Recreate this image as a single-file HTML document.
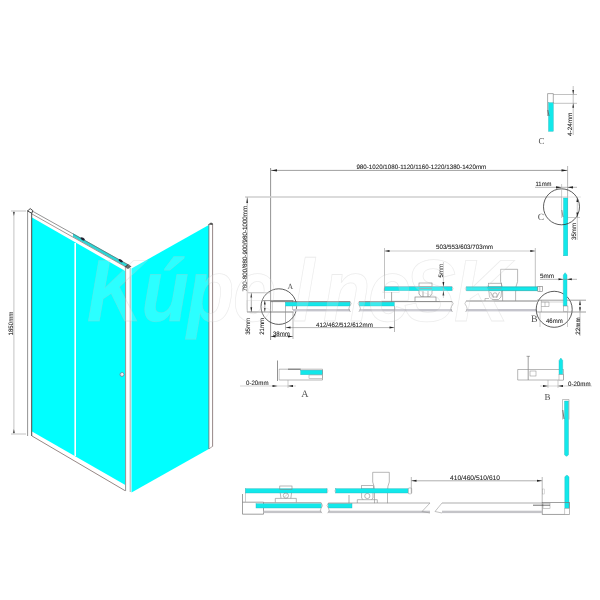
<!DOCTYPE html>
<html><head><meta charset="utf-8">
<style>
html,body{margin:0;padding:0;background:#fff;width:600px;height:600px;overflow:hidden}
svg{display:block;will-change:transform}
text{text-rendering:geometricPrecision;font-family:"Liberation Sans",sans-serif;fill:#222;stroke:#222;stroke-width:0.08}
.bar{fill:#12e8ea;stroke:#2ab4bc;stroke-width:0.4}
.sf{font-family:"Liberation Serif",serif;fill:#555;stroke:none}
</style></head><body>
<svg width="600" height="600" viewBox="0 0 600 600">
<defs>
<filter id="bl" x="-5%" y="-20%" width="110%" height="140%"><feGaussianBlur stdDeviation="0.7"/></filter>
<marker id="ar" viewBox="0 0 10 6" refX="10" refY="3" markerWidth="5" markerHeight="3" orient="auto-start-reverse" markerUnits="userSpaceOnUse"><path d="M0,0 L10,3 L0,6 z" fill="#222"/></marker>
</defs>
<rect width="600" height="600" fill="#fff"/>

<!-- ============ LEFT ENCLOSURE ============ -->
<g id="encl">
  <!-- left panel cyan -->
  <polygon points="32,217.5 125.3,271 125.3,485 32,431.5" fill="#00ffff"/>
  <!-- white divider -->
  <line x1="75.2" y1="243" x2="75.2" y2="456" stroke="#fff" stroke-width="1.6"/>
  <!-- white band above cyan (top rail area) -->
  <!-- top rail lines -->
  <polygon points="73,233.3 128,264.5 128,268 73,236.8" fill="#2cd6d6"/>
  <line x1="31.5" y1="210.6" x2="128" y2="264.6" stroke="#666" stroke-width="0.7"/>
  <line x1="32" y1="214" x2="128" y2="268.2" stroke="#7a6e6e" stroke-width="0.7"/>
  <ellipse cx="82.7" cy="238.9" rx="2.4" ry="1.2" fill="#223" transform="rotate(30 82.7 238.9)"/>
  <ellipse cx="120.7" cy="260.7" rx="2.4" ry="1.2" fill="#223" transform="rotate(30 120.7 260.7)"/>
  <!-- bottom rail -->
  <line x1="32" y1="436" x2="125.3" y2="490.8" stroke="#8a7a78" stroke-width="0.9"/>
  <!-- left post -->
  <rect x="27.6" y="210" width="4" height="226" fill="#fff" stroke="none"/>
  <line x1="27.6" y1="210" x2="27.6" y2="436" stroke="#888" stroke-width="0.9"/>
  <line x1="31.7" y1="211" x2="31.7" y2="436" stroke="#333" stroke-width="0.9"/>
  <path d="M27.6,211 L30.2,208.6 L32.8,210.6 L31.7,213.2 z" fill="#fff" stroke="#333" stroke-width="0.9"/>
  <!-- corner post -->
  <rect x="125.5" y="267" width="6" height="226" fill="#fff"/>
  <line x1="125.6" y1="268" x2="125.6" y2="491" stroke="#777" stroke-width="0.8"/>
  <line x1="130.2" y1="268" x2="130.2" y2="492" stroke="#aaa" stroke-width="1"/>
  <path d="M124.5,267 L128,264 L131.5,266.5 L128,269 z" fill="#444"/>
  <!-- right panel -->
  <polygon points="131.5,268.5 208.8,225 208.8,449 131.5,492.5" fill="#00ffff"/>
  <rect x="209" y="223.5" width="3.6" height="223" fill="#fff"/>
  <line x1="208.9" y1="224" x2="208.9" y2="449" stroke="#555" stroke-width="0.7"/>
  <line x1="212.6" y1="224" x2="212.6" y2="446.5" stroke="#8a7a7a" stroke-width="0.9"/>
  <path d="M208,224.5 L211,222.5 L213,223.5 L212.6,225 z" fill="#555"/>
  <path d="M212.6,446.3 L209,448.8" stroke="#8a7a7a" stroke-width="0.7"/>
  <!-- handle knob -->
  <circle cx="122" cy="374.5" r="2" fill="#dde" stroke="#778" stroke-width="0.7"/><circle cx="122.4" cy="374" r="0.8" fill="#fff"/>
  <!-- 1850 dim -->
  <line x1="11" y1="211" x2="26" y2="211" stroke="#aaa" stroke-width="0.7"/>
  <line x1="11" y1="434" x2="26" y2="434" stroke="#aaa" stroke-width="0.7"/>
  <line x1="13.9" y1="211" x2="13.9" y2="434" stroke="#aaa" stroke-width="0.7"/>
  <path d="M12.9,212 L14.9,212 L13.9,216 z" fill="#555"/>
  <path d="M12.9,433 L14.9,433 L13.9,429 z" fill="#555"/>
  <text transform="translate(13,335.5) rotate(-90)" font-size="6.4" textLength="24" lengthAdjust="spacingAndGlyphs">1850mm</text>
</g>


<!-- ============ TECH DRAWING ============ -->
<g id="tech" fill="none" stroke-linecap="butt">
  <!-- C small detail (top) -->
  <rect x="548.5" y="102.7" width="4.8" height="28.6" class="bar"/>
  <path d="M547.6,116 V93.6 H553.3 V103" stroke="#888" stroke-width="0.7"/>
  <path d="M547.8,110 L549,116" stroke="#555" stroke-width="0.7"/>
  <line x1="553" y1="94.5" x2="577" y2="94.5" stroke="#999" stroke-width="0.6"/>
  <line x1="553" y1="103.3" x2="577" y2="103.3" stroke="#999" stroke-width="0.6"/>
  <line x1="573.2" y1="86" x2="573.2" y2="135" stroke="#999" stroke-width="0.6"/>
  <path d="M572.3,90 L574.1,90 L573.2,94.5 z M572.3,107.8 L574.1,107.8 L573.2,103.3 z" fill="#333"/>
  <text transform="translate(572,136) rotate(-90)" font-size="6.3" textLength="23.3" lengthAdjust="spacingAndGlyphs">4-24mm</text>
  <text class="sf" x="538.6" y="144.2" font-size="9" stroke="none">C</text>

  <!-- long dims -->
  <line x1="270.6" y1="168" x2="270.6" y2="340" stroke="#666" stroke-width="0.7"/>
  <line x1="271" y1="170.4" x2="567.5" y2="170.4" stroke="#777" stroke-width="0.7"/>
  <path d="M271,170.4 L277,169.3 L277,171.5 z M567.5,170.4 L561.5,169.3 L561.5,171.5 z" fill="#222"/>
  <line x1="567.6" y1="166" x2="567.6" y2="220" stroke="#888" stroke-width="0.6"/>
  <text x="356.4" y="169" font-size="6.3" textLength="129.9" lengthAdjust="spacingAndGlyphs">980-1020/1080-1120/1160-1220/1380-1420mm</text>
  <line x1="245" y1="197" x2="561.6" y2="197" stroke="#cfcfcf" stroke-width="1.3"/>
  <line x1="568" y1="197" x2="581" y2="197" stroke="#e4e4e4" stroke-width="1"/>
  <line x1="247.2" y1="197" x2="247.2" y2="312" stroke="#999" stroke-width="0.6"/>
  <path d="M246.3,203 L248.1,203 L247.2,197.5 z" fill="#333"/>
  <text transform="translate(246.7,291.6) rotate(-90)" font-size="6.3" textLength="85.8" lengthAdjust="spacingAndGlyphs">780-800/880-900/980-1000mm</text>

  <!-- C detail (circle) -->
  <rect x="563.5" y="198" width="4.3" height="57.8" class="bar"/>
  <path d="M561.6,218 V197 H567.5" stroke="#aaa" stroke-width="0.6"/>
  <path d="M561.8,210 L563,217" stroke="#666" stroke-width="0.7"/>
  <circle cx="561.5" cy="206.8" r="18" stroke="#333" stroke-width="0.8"/>
  <line x1="535" y1="187.3" x2="577" y2="187.3" stroke="#888" stroke-width="0.6"/>
  <path d="M561.5,187.3 L556,186.2 L556,188.4 z M567.6,187.3 L573,186.2 L573,188.4 z" fill="#222"/>
  <line x1="561.6" y1="184" x2="561.6" y2="197" stroke="#aaa" stroke-width="0.6"/>
  <text x="535.5" y="186.2" font-size="6.3" textLength="16" lengthAdjust="spacingAndGlyphs">11mm</text>
  <line x1="568" y1="217.5" x2="580" y2="217.5" stroke="#aaa" stroke-width="0.6"/>
  <line x1="577.3" y1="197" x2="577.3" y2="240" stroke="#aaa" stroke-width="0.6"/>
  <path d="M576.4,202 L578.2,202 L577.3,197.5 z M576.4,212.5 L578.2,212.5 L577.3,217.5 z" fill="#222"/>
  <text transform="translate(576.2,240) rotate(-90)" font-size="6.3" textLength="17" lengthAdjust="spacingAndGlyphs">35mm</text>
  <text class="sf" x="537.8" y="219.5" font-size="9.5" stroke="none">C</text>

  <!-- A circle detail -->
  <circle cx="278.8" cy="306.6" r="17.8" stroke="#333" stroke-width="0.8"/>
  <line x1="262.5" y1="300.6" x2="293.5" y2="300.6" stroke="#555" stroke-width="0.7"/>
  <line x1="292.5" y1="300.6" x2="292.5" y2="310" stroke="#888" stroke-width="0.5"/>
  <line x1="247" y1="312" x2="293.5" y2="312" stroke="#555" stroke-width="0.7"/>
  <line x1="248" y1="292.8" x2="270.6" y2="292.8" stroke="#999" stroke-width="0.6"/>
  <line x1="272.5" y1="301" x2="272.5" y2="311.5" stroke="#aaa" stroke-width="0.5"/>
  <line x1="251.3" y1="292.8" x2="251.3" y2="312" stroke="#777" stroke-width="0.6"/>
  <path d="M250.4,297.5 L252.2,297.5 L251.3,293 z M250.4,307.3 L252.2,307.3 L251.3,311.8 z" fill="#222"/>
  <line x1="264.8" y1="300.6" x2="264.8" y2="312" stroke="#777" stroke-width="0.6"/>
  <path d="M263.9,304.6 L265.7,304.6 L264.8,300.8 z M263.9,308 L265.7,308 L264.8,311.8 z" fill="#222"/>
  <text transform="translate(250.4,334.8) rotate(-90)" font-size="6.3" textLength="17" lengthAdjust="spacingAndGlyphs">35mm</text>
  <text transform="translate(263.7,334.8) rotate(-90)" font-size="6.3" textLength="16.8" lengthAdjust="spacingAndGlyphs">21mm</text>
  <line x1="270.6" y1="336.5" x2="293" y2="336.5" stroke="#777" stroke-width="0.6"/>
  <line x1="293" y1="312" x2="293" y2="339" stroke="#888" stroke-width="0.6"/>
  <path d="M270.8,336.5 L275.5,335.5 L275.5,337.5 z M292.8,336.5 L288,335.5 L288,337.5 z" fill="#222"/>
  <text x="272.9" y="336" font-size="6.3" textLength="17" lengthAdjust="spacingAndGlyphs">38mm</text>
  <text class="sf" x="287.6" y="288.9" font-size="7.8">A</text>

  <!-- lower plan rail -->
  <line x1="270.6" y1="301.6" x2="350" y2="301.6" stroke="#666" stroke-width="0.8"/>
  <line x1="359" y1="301.6" x2="452" y2="301.6" stroke="#666" stroke-width="0.8"/>
  <line x1="466" y1="301" x2="537" y2="301" stroke="#666" stroke-width="0.8"/>
  <rect x="285.3" y="302.2" width="64.7" height="3.8" class="bar"/>
  <rect x="359.3" y="302.2" width="35" height="3.8" class="bar"/>
  <rect x="293" y="309" width="57" height="2.4" fill="#c4c4cc"/>
  <rect x="359.3" y="309" width="92.7" height="2.4" fill="#c4c4cc"/>
  <rect x="466" y="309" width="71" height="2.4" fill="#c4c4cc"/>
  <path d="M350,301.2 Q352.5,303.5 349.5,306.5 Q347.5,309 350.5,312" stroke="#999" stroke-width="0.6"/>
  <path d="M359.3,301.2 Q356.8,303.5 359.8,306.5 Q361.8,309 358.8,312" stroke="#999" stroke-width="0.6"/>
  <path d="M452,301.2 Q454.5,303.5 451.5,306.5 Q449.5,309 452.5,312" stroke="#999" stroke-width="0.6"/>
  <path d="M466,301.2 Q463.5,303.5 466.5,306.5 Q468.5,309 465.5,312" stroke="#999" stroke-width="0.6"/>
  <line x1="285.5" y1="306" x2="285.5" y2="330" stroke="#888" stroke-width="0.6"/>
  <line x1="394.5" y1="306" x2="394.5" y2="332" stroke="#888" stroke-width="0.6"/>
  <line x1="285.5" y1="327.6" x2="394.5" y2="327.6" stroke="#888" stroke-width="0.6"/>
  <path d="M285.7,327.6 L290.5,326.6 L290.5,328.6 z M394.3,327.6 L389.5,326.6 L389.5,328.6 z" fill="#222"/>
  <text x="316" y="326.7" font-size="6.3" textLength="56.8" lengthAdjust="spacingAndGlyphs">412/462/512/612mm</text>

  <!-- upper plan bar -->
  <rect x="384.2" y="286.9" width="67.8" height="3.8" class="bar"/>
  <line x1="384.2" y1="286.5" x2="452" y2="286.5" stroke="#7ab" stroke-width="0.5"/>
  <path d="M452,286.5 Q454,288.5 452,291" stroke="#aaa" stroke-width="0.5"/>
  <path d="M466.3,286.5 Q464.3,288.5 466.3,291" stroke="#aaa" stroke-width="0.5"/>
  <line x1="384.5" y1="248" x2="384.5" y2="298.8" stroke="#999" stroke-width="0.6"/>
  <line x1="391.6" y1="292" x2="391.6" y2="301.5" stroke="#666" stroke-width="0.7"/>
  <line x1="535.3" y1="248" x2="535.3" y2="287" stroke="#999" stroke-width="0.6"/>
  <line x1="384.5" y1="251" x2="535.3" y2="251" stroke="#aaa" stroke-width="0.6"/>
  <path d="M384.7,251 L389.5,250 L389.5,252 z M535.1,251 L530.3,250 L530.3,252 z" fill="#222"/>
  <text x="436" y="249.3" font-size="6.3" textLength="57" lengthAdjust="spacingAndGlyphs">503/553/603/703mm</text>
  <!-- 5mm mid -->
  <line x1="443.4" y1="262" x2="443.4" y2="298" stroke="#aaa" stroke-width="0.6"/>
  <path d="M442.5,282 L444.3,282 L443.4,286.8 z M442.5,295.5 L444.3,295.5 L443.4,290.8 z" fill="#222"/>
  <text transform="translate(442.5,277.5) rotate(-90)" font-size="6.3" textLength="13.7" lengthAdjust="spacingAndGlyphs">5mm</text>
  <!-- roller 1 -->
  <g stroke="#777" stroke-width="0.6">
    <rect x="419" y="283" width="13" height="3.6" fill="#fff"/>
    <path d="M419,290.7 V294 L421.5,297 H429.5 L432,294 V290.7" fill="#fff"/>
    <line x1="423" y1="291" x2="423" y2="297"/><line x1="428" y1="291" x2="428" y2="297"/>
    <rect x="415" y="297" width="21" height="4.3" fill="#fff"/>
  </g>
  <line x1="419" y1="288.6" x2="432" y2="288.6" stroke="#e66" stroke-width="0.5"/>
  <!-- roller 2 + vase -->
  <g stroke="#888" stroke-width="0.6" fill="none">
    <path d="M502.6,301 V292 Q502.6,286 500.6,281.5 V269.3 H517.6 V281.5 Q515.6,286 515.6,292 V301"/>
    <rect x="488.4" y="283.2" width="13.2" height="3.7"/>
    <path d="M488.8,290.8 L489.5,297 L492,299.5 H498.5 L501,297 L501.6,290.8"/>
    <path d="M490.5,292 L493.5,298 M499.5,292 L496.5,298"/>
    <circle cx="495" cy="295" r="2.2"/>
    <path d="M485,301 V298.5 H489"/>
  </g>
  <rect x="466.3" y="286.9" width="71.5" height="3.8" class="bar"/>
  <line x1="488.4" y1="288.6" x2="501.6" y2="288.6" stroke="#d77" stroke-width="0.4"/>
  <rect x="537.8" y="286.4" width="4.8" height="5" fill="#fff" stroke="#777" stroke-width="0.6"/>
  <line x1="539.8" y1="286.4" x2="539.8" y2="291.4" stroke="#777" stroke-width="0.5"/>
  <line x1="466.3" y1="286.9" x2="537.8" y2="286.9" stroke="#2aa" stroke-width="0.4"/>
  <line x1="466.3" y1="290.7" x2="537.8" y2="290.7" stroke="#2aa" stroke-width="0.4"/>

  <!-- B circle detail -->
  <circle cx="554.2" cy="309.3" r="18" stroke="#333" stroke-width="0.8"/>
  <line x1="537" y1="300.2" x2="586" y2="300.2" stroke="#777" stroke-width="0.7"/>
  <line x1="537" y1="312" x2="586" y2="312" stroke="#777" stroke-width="0.7"/>
  <path d="M541.3,300.2 V312 M541.3,302 H549 V306.5 H541.3 M545,302 V306.5" stroke="#888" stroke-width="0.5"/>
  <line x1="541.3" y1="302" x2="563" y2="302" stroke="#aaa" stroke-width="0.5"/>
  <path d="M563.3,306 V275 L565.1,272.7 L567,275 V306 z" class="bar"/>
  <rect x="563.3" y="306" width="4.6" height="5.5" fill="#fff" stroke="#888" stroke-width="0.5"/>
  <line x1="540" y1="279.3" x2="577" y2="279.3" stroke="#888" stroke-width="0.6"/>
  <path d="M563.3,279.3 L558.5,278.3 L558.5,280.3 z M567,279.3 L571.8,278.3 L571.8,280.3 z" fill="#222"/>
  <text x="540" y="278.3" font-size="6.3" textLength="14" lengthAdjust="spacingAndGlyphs">5mm</text>
  <line x1="580" y1="300.2" x2="580" y2="336" stroke="#999" stroke-width="0.6"/>
  <path d="M579.1,305 L580.9,305 L580,300.5 z M579.1,307.3 L580.9,307.3 L580,311.8 z" fill="#222"/>
  <text transform="translate(580,334.7) rotate(-90)" font-size="6.3" textLength="17.4" lengthAdjust="spacingAndGlyphs">22mm</text>
  <line x1="540" y1="312" x2="540" y2="327" stroke="#999" stroke-width="0.5"/>
  <line x1="567.5" y1="312" x2="567.5" y2="327" stroke="#999" stroke-width="0.5"/>
  <text x="546" y="322.7" font-size="6.3" textLength="16.7" lengthAdjust="spacingAndGlyphs">46mm</text>
  <text class="sf" x="531" y="322.4" font-size="9.8">B</text>

  <!-- A lower detail -->
  <line x1="277.5" y1="360.5" x2="277.5" y2="381" stroke="#777" stroke-width="0.8"/>
  <line x1="279.2" y1="369" x2="279.2" y2="380" stroke="#999" stroke-width="0.5"/>
  <rect x="300.7" y="370.2" width="21.8" height="4.5" class="bar"/>
  <path d="M279.2,369.2 H322.5 V380 H279.2" stroke="#888" stroke-width="0.6"/>
  <line x1="288" y1="369.2" x2="300.7" y2="369.2" stroke="#555" stroke-width="0.8"/>
  <rect x="309" y="375" width="13.5" height="3.5" stroke="#999" stroke-width="0.5"/>
  <line x1="240" y1="386" x2="296" y2="386" stroke="#bbb" stroke-width="0.6"/>
  <line x1="288" y1="380" x2="288" y2="388" stroke="#999" stroke-width="0.5"/>
  <path d="M277.5,386 L272.5,385 L272.5,387 z M288,386 L293,385 L293,387 z" fill="#222"/>
  <text x="246" y="385.2" font-size="6.3" textLength="22.5" lengthAdjust="spacingAndGlyphs">0-20mm</text>
  <text class="sf" x="301.3" y="397.2" font-size="10" stroke="none">A</text>

  <!-- B lower detail -->
  <line x1="528.2" y1="356" x2="528.2" y2="380" stroke="#777" stroke-width="0.7"/>
  <line x1="526.5" y1="356.3" x2="530" y2="356.3" stroke="#777" stroke-width="0.6"/>
  <path d="M517.7,369.5 H563.5 M517.7,369.5 V380 H563.5" stroke="#888" stroke-width="0.6"/>
  <rect x="530" y="371" width="6" height="5" stroke="#888" stroke-width="0.5"/>
  <path d="M559,374.7 V360.5 L560.9,358 L562.7,360.5 V374.7 z" class="bar"/>
  <rect x="559" y="374.7" width="4.5" height="5.3" fill="#fff" stroke="#999" stroke-width="0.5"/>
  <line x1="563.5" y1="369.5" x2="563.5" y2="380" stroke="#888" stroke-width="0.5"/>
  <line x1="540" y1="386" x2="592" y2="386" stroke="#bbb" stroke-width="0.6"/>
  <line x1="548" y1="380" x2="548" y2="388" stroke="#999" stroke-width="0.5"/>
  <line x1="558" y1="380" x2="558" y2="388" stroke="#999" stroke-width="0.5"/>
  <path d="M548,386 L543,385 L543,387 z M558,386 L563,385 L563,387 z" fill="#222"/>
  <text x="568" y="386" font-size="6.3" textLength="22.5" lengthAdjust="spacingAndGlyphs">0-20mm</text>
  <text class="sf" x="544.6" y="399.5" font-size="9" stroke="none">B</text>

  <!-- vertical glass right -->
  <path d="M564.5,401 H568.5 V454.5 Q566.5,458 564.5,454.5 z" class="bar"/>
  <path d="M564.8,508.4 V477 Q566.9,473.5 569,477 V508.4 z" class="bar"/>
  <path d="M562.5,419.5 V399.5 H569 V419.5" stroke="#999" stroke-width="0.6"/>
  <path d="M562.8,410 L564,419" stroke="#555" stroke-width="0.8"/>
  <rect x="542.2" y="502.6" width="27.4" height="11.7" stroke="#777" stroke-width="0.7"/>
  <rect x="564.8" y="508.4" width="4.8" height="5.9" fill="#fff" stroke="#999" stroke-width="0.5"/>
  <rect x="543" y="503.5" width="7" height="5" stroke="#999" stroke-width="0.5"/>
  <line x1="533" y1="505.2" x2="550" y2="505.2" stroke="#333" stroke-width="0.7"/>
  <rect x="542.6" y="489" width="1.8" height="5" stroke="#aaa" stroke-width="0.4"/>

  <!-- bottom plan -->
  <line x1="242.5" y1="494" x2="242.5" y2="514.2" stroke="#777" stroke-width="0.7"/>
  <path d="M242.5,502.2 H263.5 V514.2 H242.5" stroke="#777" stroke-width="0.7"/>
  <line x1="245.5" y1="489" x2="245.5" y2="502" stroke="#aaa" stroke-width="0.6"/>
  <rect x="245.5" y="488.7" width="81.5" height="4.3" class="bar"/>
  <rect x="256" y="503.7" width="65.3" height="4.3" class="bar"/>
  <rect x="328.3" y="503.7" width="23.7" height="4.3" class="bar"/>
  <line x1="263.5" y1="502.6" x2="321.3" y2="502.6" stroke="#777" stroke-width="0.6"/>
  <line x1="328.3" y1="503" x2="430" y2="503" stroke="#777" stroke-width="0.6"/>
  <line x1="442" y1="503" x2="542.2" y2="503" stroke="#777" stroke-width="0.6"/>
  <rect x="263.5" y="510.7" width="57.8" height="2.4" fill="#c4c4c8"/>
  <rect x="328.3" y="510.7" width="101.7" height="2.4" fill="#c4c4c8"/>
  <rect x="442" y="510.7" width="100.2" height="2.4" fill="#c4c4c8"/>
  <path d="M321.3,503 Q324,505.5 321,508.5 Q319,511 322,513.2" stroke="#999" stroke-width="0.6"/>
  <path d="M328.3,503 Q325.6,505.5 328.6,508.5 Q330.6,511 327.6,513.2" stroke="#999" stroke-width="0.6"/>
  <path d="M430,503 L422,511.5 L430,513" stroke="#999" stroke-width="0.6"/>
  <path d="M442,503 L435,511.5 L442,513" stroke="#999" stroke-width="0.6"/>
  <path d="M327,488.7 Q329,491 327,493" stroke="#aaa" stroke-width="0.5"/>
  <path d="M335.8,488.7 Q333.8,491 335.8,493" stroke="#aaa" stroke-width="0.5"/>
  <g stroke="#888" stroke-width="0.6" fill="none">
    <rect x="279.8" y="486" width="12.2" height="3.4"/>
    <path d="M280.2,492.8 L281,498.3 M291.6,492.8 L290.8,498.3"/>
    <circle cx="285.9" cy="495.6" r="2.6"/>
    <path d="M284.5,497 L287.3,494.2" stroke-width="0.4"/>
    <path d="M275.3,502.4 V498.4 H296.3 V502.4"/>
  </g>
  <line x1="349" y1="495" x2="349" y2="503" stroke="#777" stroke-width="0.6"/>
  <g stroke="#888" stroke-width="0.6" fill="none">
    <path d="M374.5,503.2 V491 Q374.5,486 372.7,482 V472.3 H389.3 V482 Q387.5,486 387.5,491 V503.2"/>
    <rect x="361.3" y="485.7" width="12" height="3.2"/>
    <path d="M361.6,492.8 V498 L363,499.7 M373,492.8 V498 L371.6,499.7"/>
    <circle cx="367.3" cy="496" r="2.6"/>
    <path d="M357.3,503 V499.7 H377.3 V503"/>
  </g>
  <line x1="361.3" y1="491" x2="373.3" y2="491" stroke="#d88" stroke-width="0.4"/>
  <rect x="335.8" y="488.7" width="72.5" height="4.3" class="bar"/>
  <rect x="408.3" y="488" width="3.4" height="5.8" fill="#fff" stroke="#888" stroke-width="0.5" rx="0.8"/>
  <line x1="411.3" y1="477" x2="411.3" y2="493" stroke="#888" stroke-width="0.6"/>
  <line x1="542.2" y1="477" x2="542.2" y2="502.6" stroke="#888" stroke-width="0.6"/>
  <line x1="411.3" y1="480.8" x2="542.2" y2="480.8" stroke="#777" stroke-width="0.6"/>
  <path d="M411.5,480.8 L416.5,479.8 L416.5,481.8 z M542,480.8 L537,479.8 L537,481.8 z" fill="#222"/>
  <text x="450" y="480" font-size="6.6" textLength="50" lengthAdjust="spacingAndGlyphs">410/460/510/610</text>
</g>

<!-- watermark -->
<text filter="url(#bl)" transform="scale(0.88,1)" x="98.9 160.8 212.5 264.8 333.0 367.0 418.2 459.1 515.9" y="321" font-size="88" font-weight="bold" font-style="italic" style="fill:#fff;fill-opacity:0.17;stroke:#c0c0c0;stroke-opacity:0.3;stroke-width:0.8">KúpelneSK</text>

</svg>
</body></html>
